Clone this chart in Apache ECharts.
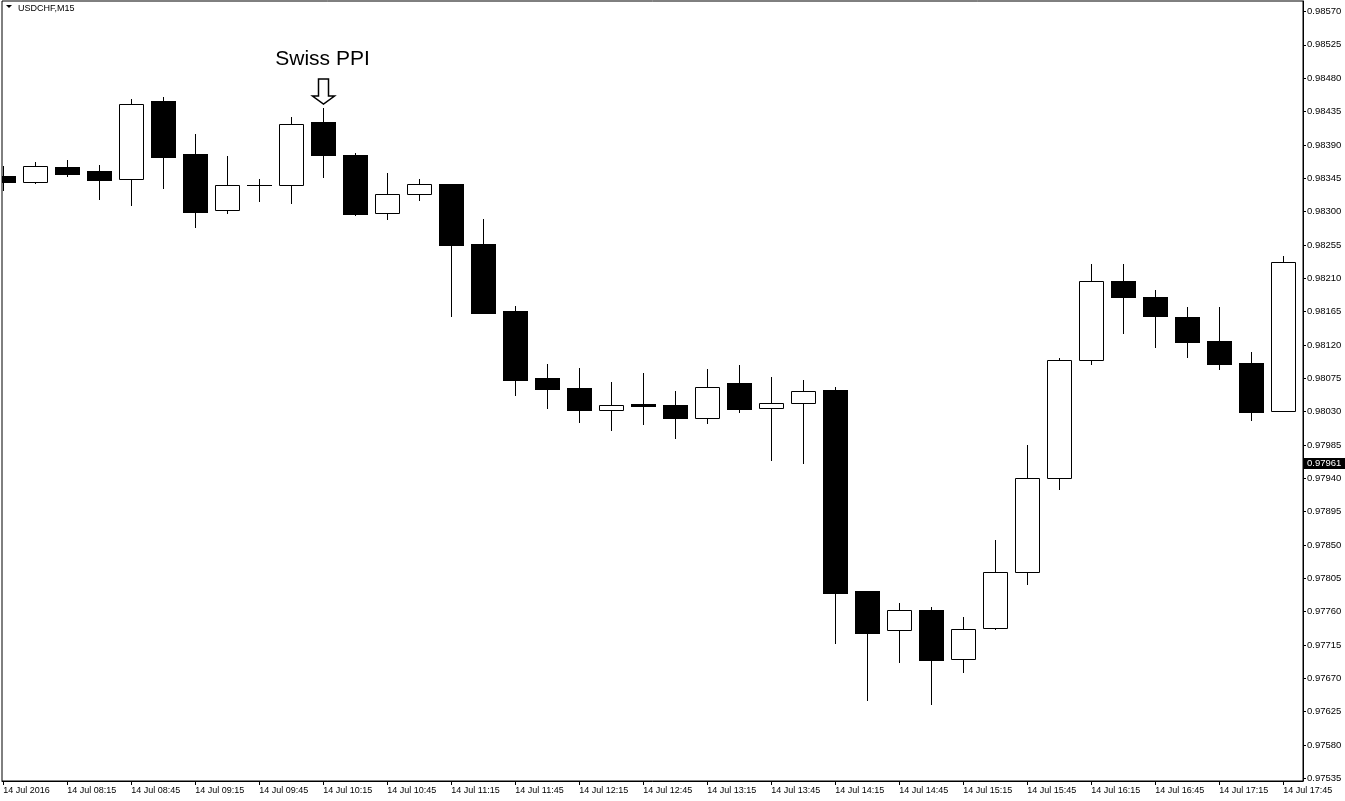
<!DOCTYPE html>
<html>
<head>
<meta charset="utf-8">
<script src="https://cdn.jsdelivr.net/npm/echarts@6/dist/echarts.min.js"></script>
<style>
  html, body { margin: 0; padding: 0; background: #fff; }
  #chart { width: 1345px; height: 801px; }
</style>
</head>
<body>
<div id="chart"></div>
<script>
// ---- Data (USDCHF, M15, 14 Jul 2016) ----
const symbolTitle = 'USDCHF,M15';
const times = ['07:45','08:00','08:15','08:30','08:45','09:00','09:15','09:30','09:45','10:00',
               '10:15','10:30','10:45','11:00','11:15','11:30','11:45','12:00','12:15','12:30',
               '12:45','13:00','13:15','13:30','13:45','14:00','14:15','14:30','14:45','15:00',
               '15:15','15:30','15:45','16:00','16:15','16:30','16:45','17:00','17:15','17:30','17:45'];
const opens  = [0.98348,0.98340,0.98360,0.98355,0.98344,0.98449,0.98378,0.98302,0.98336,0.98336,
                0.98421,0.98376,0.98298,0.98324,0.98337,0.98256,0.98166,0.98075,0.98062,0.98032,
                0.98040,0.98039,0.98021,0.98069,0.98035,0.98042,0.98059,0.97788,0.97735,0.97762,
                0.97696,0.97738,0.97814,0.97940,0.98100,0.98206,0.98185,0.98158,0.98125,0.98096,0.98031];
const closes = [0.98340,0.98361,0.98351,0.98343,0.98445,0.98374,0.98299,0.98336,0.98336,0.98418,
                0.98376,0.98297,0.98324,0.98337,0.98255,0.98163,0.98073,0.98061,0.98032,0.98039,
                0.98038,0.98021,0.98063,0.98034,0.98042,0.98058,0.97785,0.97731,0.97762,0.97695,
                0.97737,0.97814,0.97940,0.98100,0.98206,0.98185,0.98159,0.98124,0.98094,0.98030,0.98232];
const lows   = [0.98329,0.98339,0.98348,0.98317,0.98309,0.98332,0.98279,0.98298,0.98314,0.98312,
                0.98347,0.98295,0.98290,0.98316,0.98159,0.98163,0.98052,0.98035,0.98016,0.98005,
                0.98013,0.97994,0.98015,0.98030,0.97965,0.97961,0.97718,0.97641,0.97692,0.97635,
                0.97679,0.97737,0.97797,0.97926,0.98094,0.98136,0.98117,0.98104,0.98088,0.98019,0.98031];
const highs  = [0.98361,0.98367,0.98370,0.98363,0.98452,0.98455,0.98405,0.98375,0.98344,0.98428,
                0.98440,0.98379,0.98352,0.98344,0.98337,0.98290,0.98173,0.98094,0.98089,0.98070,
                0.98082,0.98058,0.98088,0.98093,0.98077,0.98073,0.98063,0.97788,0.97772,0.97766,
                0.97753,0.97857,0.97985,0.98102,0.98229,0.98229,0.98194,0.98171,0.98171,0.98110,0.98240];
const xTickLabels = ['14 Jul 2016','14 Jul 08:15','14 Jul 08:45','14 Jul 09:15','14 Jul 09:45',
                     '14 Jul 10:15','14 Jul 10:45','14 Jul 11:15','14 Jul 11:45','14 Jul 12:15',
                     '14 Jul 12:45','14 Jul 13:15','14 Jul 13:45','14 Jul 14:15','14 Jul 14:45',
                     '14 Jul 15:15','14 Jul 15:45','14 Jul 16:15','14 Jul 16:45','14 Jul 17:15','14 Jul 17:45'];
const yTickLabels = ['0.97535','0.97580','0.97625','0.97670','0.97715','0.97760','0.97805','0.97850',
                     '0.97895','0.97940','0.97985','0.98030','0.98075','0.98120','0.98165','0.98210',
                     '0.98255','0.98300','0.98345','0.98390','0.98435','0.98480','0.98525','0.98570'];
const currentPrice = 0.97961;
const eventLabel = 'Swiss PPI';
const eventTime = '10:15';

// ---- Build ----
const candleData = times.map((t, i) => [i, opens[i], closes[i], lows[i], highs[i]]);
const xTickValues = xTickLabels.map((_, k) => k * 2);
const yTickValues = yTickLabels.map(s => parseFloat(s));
const FONT = 'Liberation Sans, Arial, sans-serif';

const chart = echarts.init(document.getElementById('chart'), null, { renderer: 'canvas' });

function renderCandle(params, api) {
  const i = api.value(0), o = api.value(1), c = api.value(2), l = api.value(3), h = api.value(4);
  const pO = api.coord([i, o]), pC = api.coord([i, c]), pL = api.coord([i, l]), pH = api.coord([i, h]);
  const cx = Math.round(pO[0]);
  const half = Math.round(api.size([1, 0])[0] * 0.375);
  const yO = Math.round(pO[1]), yC = Math.round(pC[1]);
  const yL = Math.round(pL[1]), yH = Math.round(pH[1]);
  const bull = c > o;
  const top = Math.min(yO, yC), bot = Math.max(yO, yC);
  const children = [{
    type: 'line',
    shape: { x1: cx + 0.5, y1: yH, x2: cx + 0.5, y2: yL + 1 },
    style: { stroke: '#000', lineWidth: 1 }
  }];
  if (bot - top < 1) {
    children.push({
      type: 'line',
      shape: { x1: cx - half, y1: top + 0.5, x2: cx + half + 1, y2: top + 0.5 },
      style: { stroke: '#000', lineWidth: 1 }
    });
  } else if (bull) {
    children.push({
      type: 'rect',
      shape: { x: cx - half + 0.5, y: top + 0.5, width: half * 2, height: bot - top },
      style: { fill: '#fff', stroke: '#000', lineWidth: 1 }
    });
  } else {
    children.push({
      type: 'rect',
      shape: { x: cx - half, y: top, width: half * 2 + 1, height: bot - top + 1 },
      style: { fill: '#000' }
    });
  }
  return { type: 'group', children };
}

const option = {
  backgroundColor: '#fff',
  animation: false,
  grid: {
    left: 2, top: 1, right: 42, bottom: 20,
    show: true, borderColor: '#000', borderWidth: 1, backgroundColor: '#fff'
  },
  xAxis: {
    type: 'value',
    min: -0.040625,
    max: 40.615625,
    splitLine: { show: false },
    axisLine: { show: true, onZero: false, lineStyle: { color: '#000', width: 1 } },
    axisTick: { show: true, length: 4, lineStyle: { color: '#000' }, customValues: xTickValues },
    axisLabel: {
      show: true, customValues: xTickValues, align: 'left', margin: 5,
      color: '#000', fontFamily: FONT, fontSize: 9,
      formatter: v => xTickLabels[Math.round(v / 2)] || ''
    }
  },
  yAxis: {
    type: 'value',
    position: 'right',
    min: 0.975314,
    max: 0.985842,
    splitLine: { show: false },
    axisLine: { show: true, onZero: false, lineStyle: { color: '#000', width: 1 } },
    axisTick: { show: true, length: 3, lineStyle: { color: '#000' }, customValues: yTickValues },
    axisLabel: {
      show: true, customValues: yTickValues, margin: 4,
      color: '#000', fontFamily: FONT, fontSize: 9.5,
      formatter: v => v.toFixed(5)
    }
  },
  series: [{
    type: 'custom',
    name: symbolTitle,
    clip: true,
    renderItem: renderCandle,
    encode: { x: 0, y: [1, 2, 3, 4] },
    data: candleData
  }]
};
chart.setOption(option);

// ---- Annotations positioned through the chart's own scales ----
const ei = times.indexOf(eventTime);
const pEvt = chart.convertToPixel({ gridIndex: 0 }, [ei, highs[ei]]);
const ex = Math.round(pEvt[0]) + 0.5;
const ey = Math.round(pEvt[1]);
const pCur = chart.convertToPixel({ gridIndex: 0 }, [0, currentPrice]);
const cy = Math.round(pCur[1]);

chart.setOption({
  graphic: [
    { type: 'polygon', shape: { points: [[6, 5], [12, 5], [9, 8]] }, style: { fill: '#000' } },
    { type: 'text', left: 18, top: 4, style: { text: symbolTitle, fill: '#000', font: '9px ' + FONT } },
    {
      type: 'text', x: ex - 1, y: ey - 49,
      style: { text: eventLabel, fill: '#000', font: '21px ' + FONT, align: 'center', verticalAlign: 'middle' }
    },
    {
      type: 'polygon',
      shape: { points: [
        [ex - 5, ey - 29], [ex + 5, ey - 29], [ex + 5, ey - 12], [ex + 11, ey - 12],
        [ex, ey - 4], [ex - 11, ey - 12], [ex - 5, ey - 12]
      ] },
      style: { fill: '#fff', stroke: '#000', lineWidth: 1.5 }
    },
    { type: 'rect', shape: { x: 1304, y: cy - 5, width: 41, height: 11 }, style: { fill: '#000' } },
    {
      type: 'text', x: 1307, y: cy + 0.5,
      style: { text: currentPrice.toFixed(5), fill: '#fff', font: '9.5px ' + FONT, verticalAlign: 'middle' }
    }
  ]
});
</script>
</body>
</html>
